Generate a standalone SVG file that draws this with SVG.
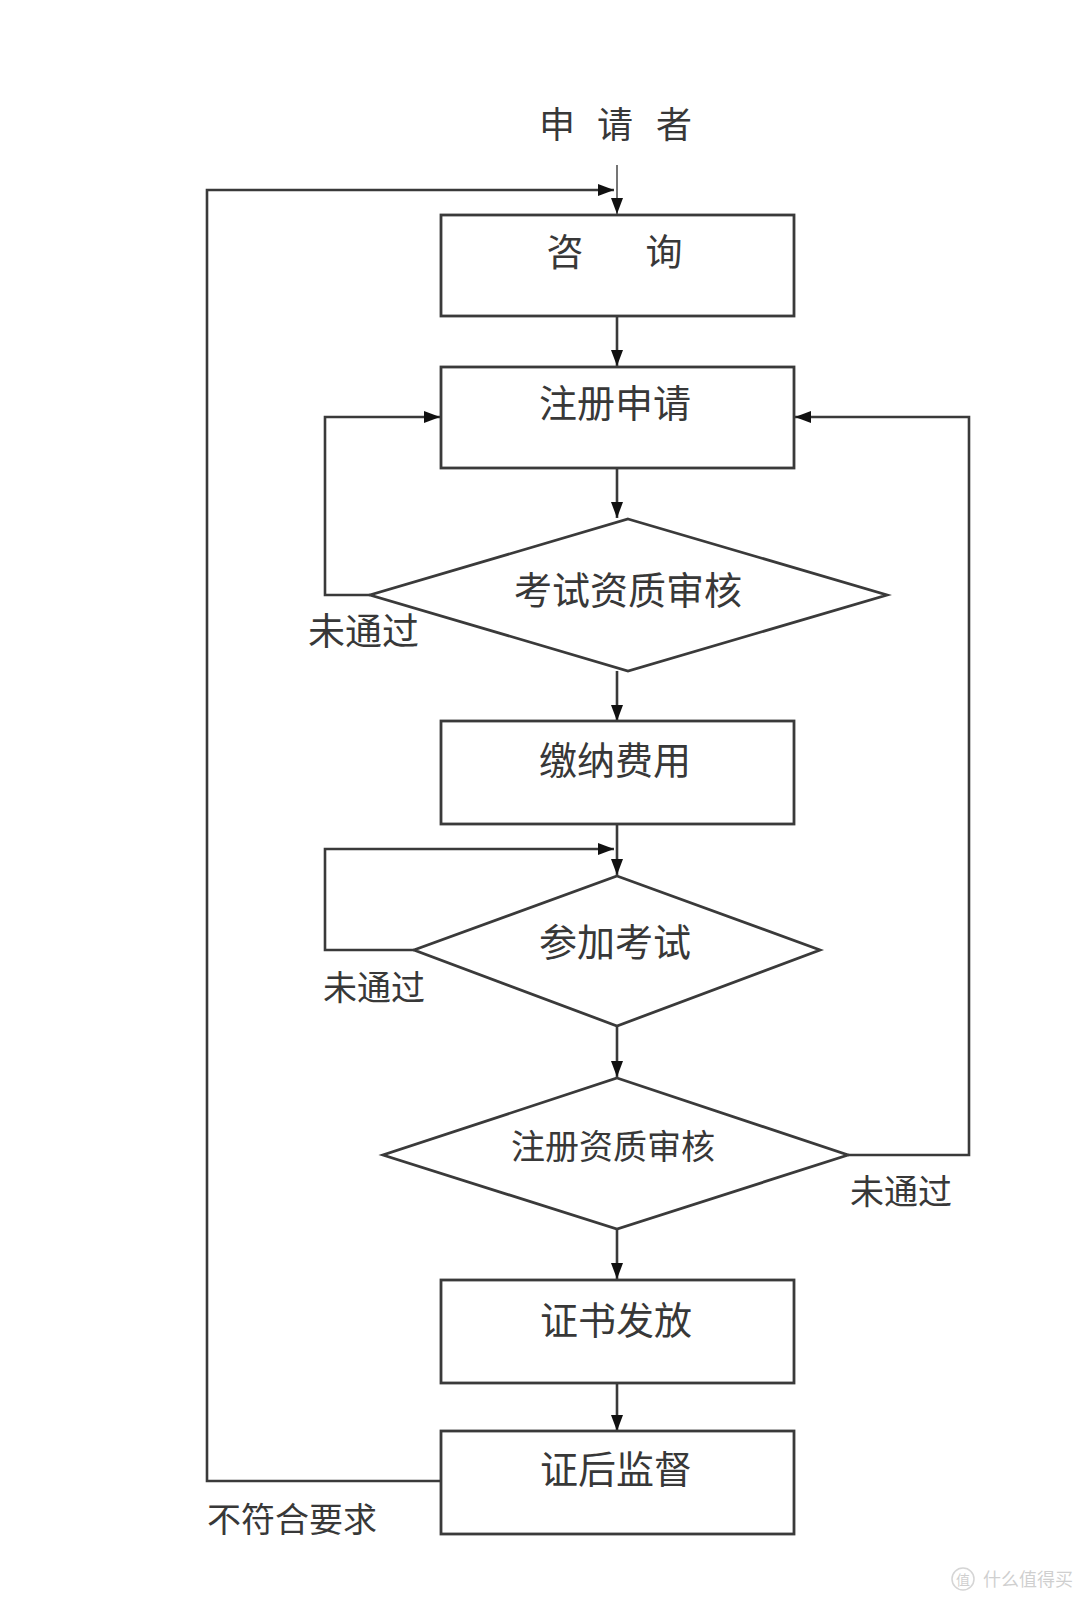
<svg xmlns="http://www.w3.org/2000/svg" width="1080" height="1602" viewBox="0 0 1080 1602">
<style>
.box{fill:#fff;stroke:#3a3a3a;stroke-width:2.8}
.ln{fill:none;stroke:#3a3a3a;stroke-width:2.6}
.t{font-family:"Noto Sans CJK SC","Noto Sans",sans-serif;fill:#383838;text-anchor:middle}
.lb{font-family:"Noto Sans CJK SC","Noto Sans",sans-serif;fill:#383838}
</style>
<defs>
<marker id="ah" viewBox="0 0 16 12" refX="16" refY="6" markerWidth="16" markerHeight="12" markerUnits="userSpaceOnUse" orient="auto">
<path d="M0,0 L16,6 L0,12 Z" fill="#111"/>
</marker>
</defs>
<rect width="1080" height="1602" fill="#fff"/>
<g id="connectors">
<line class="ln" x1="617" y1="165" x2="617" y2="214" marker-end="url(#ah)" style="stroke:#666;stroke-width:1.8"/>
<polyline class="ln" points="441,1481 207,1481 207,190 614,190" marker-end="url(#ah)"/>
<line class="ln" x1="617" y1="316" x2="617" y2="366" marker-end="url(#ah)"/>
<line class="ln" x1="617" y1="468" x2="617" y2="518" marker-end="url(#ah)"/>
<polyline class="ln" points="370,595 325,595 325,417 440,417" marker-end="url(#ah)"/>
<polyline class="ln" points="848,1155 969,1155 969,417 795,417" marker-end="url(#ah)"/>
<line class="ln" x1="617" y1="671" x2="617" y2="721" marker-end="url(#ah)"/>
<line class="ln" x1="617" y1="824" x2="617" y2="875" marker-end="url(#ah)"/>
<polyline class="ln" points="414,950 325,950 325,849 614,849" marker-end="url(#ah)"/>
<line class="ln" x1="617" y1="1026" x2="617" y2="1077" marker-end="url(#ah)"/>
<line class="ln" x1="617" y1="1229" x2="617" y2="1279" marker-end="url(#ah)"/>
<line class="ln" x1="617" y1="1383" x2="617" y2="1431" marker-end="url(#ah)"/>
</g>
<g id="applicant"><text class="t" x="557 615 674" y="138" font-size="36">申请者</text></g>
<g id="consult"><rect class="box" x="441" y="215" width="353" height="101"/><text class="t" x="565 664" y="266" font-size="37">咨询</text></g>
<g id="register"><rect class="box" x="441" y="367" width="353" height="101"/><text class="t" x="615" y="417" font-size="38">注册申请</text></g>
<g id="exam-qual"><polygon class="box" points="628,519 887,595 628,671 370,595"/><text class="t" x="628" y="604" font-size="38">考试资质审核</text></g>
<g id="pay"><rect class="box" x="441" y="721" width="353" height="103"/><text class="t" x="615" y="774" font-size="38">缴纳费用</text></g>
<g id="exam"><polygon class="box" points="617,876 820,950 617,1026 414,950"/><text class="t" x="615" y="956" font-size="38">参加考试</text></g>
<g id="reg-qual"><polygon class="box" points="617,1078 848,1155 617,1229 383,1155"/><text class="t" x="613" y="1159" font-size="34">注册资质审核</text></g>
<g id="cert"><rect class="box" x="441" y="1280" width="353" height="103"/><text class="t" x="616" y="1334" font-size="38">证书发放</text></g>
<g id="supervise"><rect class="box" x="441" y="1431" width="353" height="103"/><text class="t" x="616" y="1483" font-size="38">证后监督</text></g>
<g id="labels">
<text class="lb" x="308" y="645" font-size="37">未通过</text>
<text class="lb" x="323" y="1000" font-size="34">未通过</text>
<text class="lb" x="850" y="1204" font-size="34">未通过</text>
<text class="lb" x="207" y="1532" font-size="34">不符合要求</text>
</g>
<g id="watermark" opacity="0.35">
<circle cx="963" cy="1579" r="11" fill="none" stroke="#888" stroke-width="1.5"/>
<text class="t" x="963" y="1585" font-size="14" style="fill:#777">值</text>
<text class="lb" x="983" y="1586" font-size="18" style="fill:#777">什么值得买</text>
</g>
</svg>
